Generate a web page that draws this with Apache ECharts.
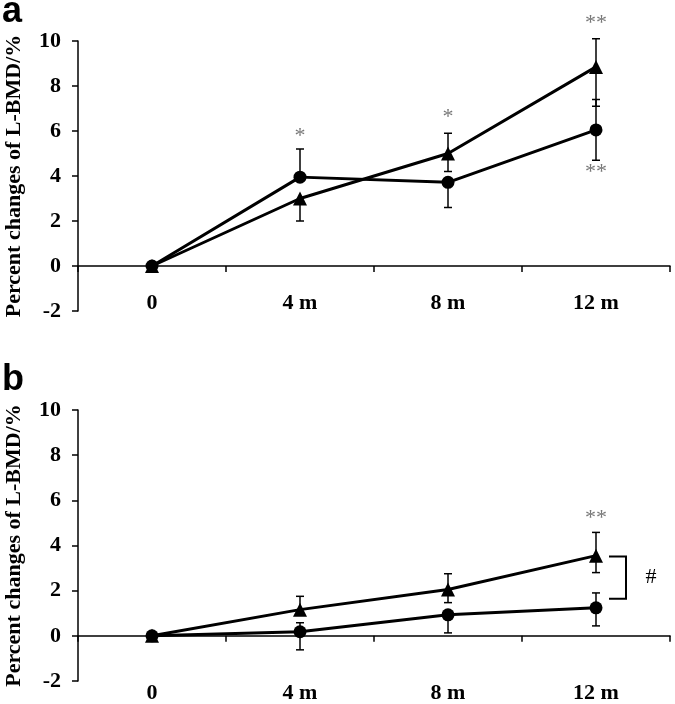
<!DOCTYPE html>
<html>
<head>
<meta charset="utf-8">
<script src="https://cdn.jsdelivr.net/npm/echarts@6/dist/echarts.min.js"></script>
<style>html,body{margin:0;padding:0;background:#fff;}#c{width:675px;height:704px;}</style>
</head>
<body>
<div id="c"></div>
<script>
const categories = ['0', '4 m', '8 m', '12 m'];
const yTicks = [-2, 0, 2, 4, 6, 8, 10];

// Panel a
const aCircle = [0, 3.95, 3.72, 6.05];
const aTriangle = [0, 3.0, 5.0, 8.85];
const aCircleUp = [null, 1.25, null, 1.35];
const aCircleDown = [null, null, 1.12, 1.35];
const aTriUp = [null, null, 0.9, 1.25];
const aTriDown = [null, 1.0, 0.8, 1.75];
const aStars = [[1, 5.75, '*'], [2, 6.6, '*'], [3, 10.8, '**'], [3, 4.15, '**']];

// Panel b
const bCircle = [0, 0.18, 0.93, 1.24];
const bTriangle = [0, 1.16, 2.05, 3.55];
const bCircleUp = [null, 0.4, null, 0.66];
const bCircleDown = [null, 0.8, 0.8, 0.8];
const bTriUp = [null, 0.59, 0.7, 1.03];
const bTriDown = [null, null, 0.58, 0.75];
const bStars = [[3, 5.2, '**']];
const bBracket = [[3, 3.51, 1.64, '#']];

const serif = '"Liberation Serif", "Times New Roman", serif';

function errData(vals, up, down) {
  const out = [];
  vals.forEach((v, i) => {
    if (up[i] != null) out.push([i, v, v + up[i]]);
    if (down[i] != null) out.push([i, v, v - down[i]]);
  });
  return out;
}

function errSeries(idx, data) {
  return {
    type: 'custom', xAxisIndex: idx, yAxisIndex: idx, z: 1,
    data: data,
    renderItem: function (params, api) {
      const p0 = api.coord([api.value(0), api.value(1)]);
      const p1 = api.coord([api.value(0), api.value(2)]);
      const hw = 4;
      return {
        type: 'group',
        children: [
          { type: 'line', shape: { x1: p0[0], y1: p0[1], x2: p1[0], y2: p1[1] }, style: { stroke: '#000', lineWidth: 1.5 } },
          { type: 'line', shape: { x1: p1[0] - hw, y1: p1[1], x2: p1[0] + hw, y2: p1[1] }, style: { stroke: '#000', lineWidth: 1.5 } }
        ]
      };
    }
  };
}

function lineSeries(idx, data, symbol, size) {
  return {
    type: 'line', xAxisIndex: idx, yAxisIndex: idx, data: data, z: 3,
    symbol: symbol, symbolSize: size,
    itemStyle: { color: '#000' },
    lineStyle: { color: '#000', width: 3 }
  };
}

function starSeries(idx, data) {
  return {
    type: 'scatter', xAxisIndex: idx, yAxisIndex: idx, clip: false, symbolSize: 0,
    data: data.map(d => ({ value: [d[0], d[1]], label: { formatter: d[2] } })),
    label: { show: true, position: 'inside', color: '#555', fontFamily: serif, fontSize: 22 },
    silent: true
  };
}

function xAx(idx, margin) {
  return {
    type: 'category', gridIndex: idx, data: categories, boundaryGap: true,
    axisLine: { onZero: true, lineStyle: { color: '#000', width: 1.5 } },
    axisTick: { show: true, length: 6, lineStyle: { color: '#000', width: 1.5 } },
    axisLabel: { margin: margin, color: '#000', fontFamily: serif, fontWeight: 'bold', fontSize: 22 },
    splitLine: { show: false }
  };
}

function yAx(idx) {
  return {
    type: 'value', gridIndex: idx, min: yTicks[0], max: yTicks[yTicks.length - 1], interval: 2,
    name: 'Percent changes of L-BMD/%', nameLocation: 'middle', nameGap: 53, nameRotate: 90,
    nameTextStyle: { color: '#000', fontFamily: serif, fontWeight: 'bold', fontSize: 22 },
    axisLine: { show: true, lineStyle: { color: '#000', width: 1.5 } },
    axisTick: { show: true, length: 6, lineStyle: { color: '#000', width: 1.5 } },
    axisLabel: { color: '#000', fontFamily: serif, fontWeight: 'bold', fontSize: 22, margin: 17 },
    splitLine: { show: false }
  };
}

const chart = echarts.init(document.getElementById('c'), null, { renderer: 'canvas' });
chart.setOption({
  animation: false,
  backgroundColor: '#fff',
  graphic: [
    { type: 'text', left: 2, top: -6, style: { text: 'a', font: 'bold 36px "Liberation Sans", Arial, sans-serif', fill: '#000' } },
    { type: 'text', left: 2, top: 362, style: { text: 'b', font: 'bold 36px "Liberation Sans", Arial, sans-serif', fill: '#000' } }
  ],
  grid: [
    { left: 78, right: 5, top: 41, bottom: 393, containLabel: false, outerBoundsMode: 'none' },
    { left: 78, right: 5, top: 410, bottom: 23, containLabel: false, outerBoundsMode: 'none' }
  ],
  xAxis: [xAx(0, -19), xAx(1, 1)],
  yAxis: [yAx(0), yAx(1)],
  series: [
    errSeries(0, errData(aCircle, aCircleUp, aCircleDown)),
    errSeries(0, errData(aTriangle, aTriUp, aTriDown)),
    lineSeries(0, aCircle, 'circle', 13),
    lineSeries(0, aTriangle, 'triangle', 14),
    starSeries(0, aStars),
    errSeries(1, errData(bCircle, bCircleUp, bCircleDown)),
    errSeries(1, errData(bTriangle, bTriUp, bTriDown)),
    lineSeries(1, bCircle, 'circle', 13),
    lineSeries(1, bTriangle, 'triangle', 14),
    starSeries(1, bStars),
    {
      type: 'custom', xAxisIndex: 1, yAxisIndex: 1, data: bBracket, z: 2,
      renderItem: function (params, api) {
        const top = api.coord([api.value(0), api.value(1)]);
        const bot = api.coord([api.value(0), api.value(2)]);
        const x1 = top[0] + 13, x2 = top[0] + 30;
        return {
          type: 'group',
          children: [
            { type: 'polyline', shape: { points: [[x1, top[1]], [x2, top[1]], [x2, bot[1]], [x1, bot[1]]] }, style: { stroke: '#000', lineWidth: 2, fill: null } },
            { type: 'text', x: top[0] + 55, y: (top[1] + bot[1]) / 2, style: { text: bBracket[params.dataIndex][3], font: '22px "Liberation Serif", serif', fill: '#000', align: 'center', verticalAlign: 'middle' } }
          ]
        };
      }
    }
  ]
});
</script>
</body>
</html>
